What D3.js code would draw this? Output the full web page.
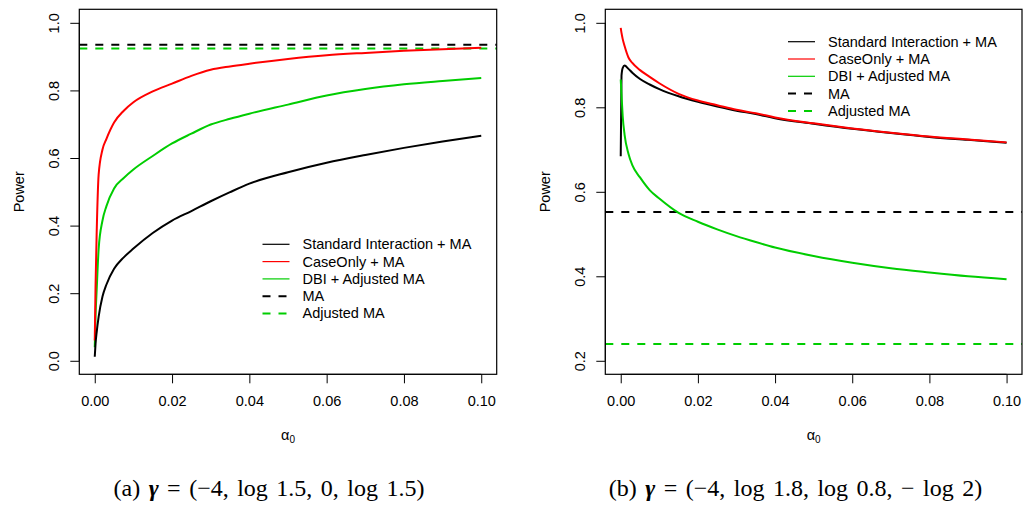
<!DOCTYPE html>
<html>
<head>
<meta charset="utf-8">
<script src="https://cdn.jsdelivr.net/npm/d3@7"></script>
<style>
  body { margin: 0; background: #fff; }
  svg text { font-family: "Liberation Sans", Arial, Helvetica, sans-serif; }
  .cap { font-family: "Liberation Serif", "DejaVu Serif", serif; }
</style>
</head>
<body>
<svg id="chart" width="1025" height="506"></svg>
<script>
// alpha0 の値（両パネル共通）
const alpha = [0, 0.0002, 0.0005, 0.001, 0.002, 0.003, 0.005, 0.0075, 0.01, 0.015, 0.02,
               0.025, 0.03, 0.035, 0.04, 0.05, 0.06, 0.07, 0.08, 0.09, 0.1];

// (a) gamma = (-4, log1.5, 0, log1.5)
const aStandard = [0.012, 0.05, 0.085, 0.13, 0.19, 0.225, 0.272, 0.306, 0.332, 0.378, 0.415,
                   0.443, 0.472, 0.499, 0.524, 0.558, 0.586, 0.609, 0.63, 0.649, 0.666];
const aCaseOnly = [0.06, 0.22, 0.38, 0.55, 0.625, 0.656, 0.705, 0.74, 0.765, 0.797, 0.82,
                   0.843, 0.861, 0.871, 0.879, 0.893, 0.904, 0.911, 0.917, 0.922, 0.926];
const aDBI = [0.04, 0.13, 0.21, 0.33, 0.415, 0.457, 0.51, 0.541, 0.566, 0.606, 0.643,
              0.672, 0.699, 0.716, 0.731, 0.758, 0.785, 0.804, 0.818, 0.828, 0.837];
const aMA = 0.935;
const aAdjMA = 0.924;

// (b) gamma = (-4, log1.8, log0.8, -log2)
const bStandard = [0.684, 0.875, 0.893, 0.899, 0.891, 0.882, 0.867, 0.854, 0.843, 0.826, 0.813,
                   0.802, 0.792, 0.784, 0.774, 0.761, 0.749, 0.739, 0.73, 0.723, 0.716];
const bCaseOnly = [0.988, 0.976, 0.962, 0.945, 0.918, 0.905, 0.888, 0.872, 0.857, 0.832, 0.816,
                   0.805, 0.794, 0.786, 0.776, 0.762, 0.75, 0.74, 0.731, 0.724, 0.717];
const bDBI = [0.866, 0.83, 0.78, 0.735, 0.69, 0.663, 0.634, 0.604, 0.584, 0.55, 0.529,
              0.511, 0.495, 0.481, 0.468, 0.448, 0.432, 0.419, 0.409, 0.4, 0.393];
const bMA = 0.552;
const bAdjMA = 0.240;

const xTicks = [0, 0.02, 0.04, 0.06, 0.08, 0.1];
const legendNames = ["Standard Interaction + MA", "CaseOnly + MA", "DBI + Adjusted MA", "MA", "Adjusted MA"];

const RED = "#ff0000";
const GREEN = "#00cd00";

const svg = d3.select("#chart");

/** パネルを一つ描く
 *
 * @param {*} p 位置と系列
 */
function drawPanel(p) {
    // R の xaxs="r" と同じく 4% 広げる
    const xr = 0.1 * 0.04;
    const yr = (p.ylim[1] - p.ylim[0]) * 0.04;
    const x = d3.scaleLinear().domain([-xr, 0.1 + xr]).range([p.left, p.right]);
    const y = d3.scaleLinear().domain([p.ylim[0] - yr, p.ylim[1] + yr]).range([p.bottom, p.top]);

    const g = svg.append("g");

    // 水平の参照線（破線）
    const hl = [[p.ma, "#000"], [p.adj, GREEN]];
    for (let h of hl) {
        g.append("line")
            .attr("x1", p.left).attr("x2", p.right)
            .attr("y1", y(h[0])).attr("y2", y(h[0]))
            .attr("stroke", h[1]).attr("stroke-width", 2)
            .attr("stroke-dasharray", "8,8");
    }

    const line = d3.line().x((d, i) => x(alpha[i])).y(d => y(d)).curve(d3.curveMonotoneX);
    const series = [[p.dbi, GREEN], [p.caseOnly, RED], [p.standard, "#000"]];
    if (p.redOnTop) series.reverse();
    for (let s of series) {
        g.append("path")
            .attr("d", line(s[0]))
            .attr("fill", "none")
            .attr("stroke", s[1])
            .attr("stroke-width", 2)
            .attr("stroke-linejoin", "round");
    }

    // 枠
    g.append("rect")
        .attr("x", p.left).attr("y", p.top)
        .attr("width", p.right - p.left).attr("height", p.bottom - p.top)
        .attr("fill", "none").attr("stroke", "#000").attr("stroke-width", 1.2);

    // x 軸
    const xAxis = g.append("g")
        .attr("transform", `translate(0,${p.bottom})`)
        .call(d3.axisBottom(x).tickValues(xTicks).tickSize(9).tickSizeOuter(0)
            .tickFormat(d3.format(".2f")));
    xAxis.select(".domain").attr("d", `M${x(0)},0H${x(0.1)}`);
    xAxis.selectAll("text").attr("font-size", 14.5).attr("fill", "#000")
        .attr("font-family", "Liberation Sans, Arial, sans-serif")
        .attr("dy", null).attr("y", 32);

    // y 軸
    const yAxis = g.append("g")
        .attr("transform", `translate(${p.left},0)`)
        .call(d3.axisLeft(y).tickValues(p.yTicks).tickSize(9).tickSizeOuter(0)
            .tickFormat(d3.format(".1f")));
    yAxis.select(".domain").attr("d", `M0,${y(p.yTicks[0])}V${y(p.yTicks[p.yTicks.length - 1])}`);
    yAxis.selectAll(".tick text")
        .attr("font-size", 14.5).attr("fill", "#000")
        .attr("font-family", "Liberation Sans, Arial, sans-serif")
        .attr("x", null).attr("dy", null)
        .attr("text-anchor", "middle")
        .attr("transform", "translate(-20,0) rotate(-90)");

    // 軸ラベル
    g.append("text")
        .attr("transform", `translate(${p.left - 55},${(p.top + p.bottom) / 2}) rotate(-90)`)
        .attr("text-anchor", "middle")
        .attr("font-size", 14.5)
        .text("Power");

    const xl = g.append("text")
        .attr("x", (p.left + p.right) / 2)
        .attr("y", p.bottom + 66)
        .attr("text-anchor", "middle")
        .attr("font-size", 14.5);
    xl.append("tspan").text("α");
    xl.append("tspan").attr("font-size", 10).attr("dy", 3).text("0");

    // 凡例
    const lg = g.append("g").attr("transform", `translate(${p.legX},${p.legY})`);
    const legStyle = [
        ["#000", null, 1.2], [RED, null, 1.2], [GREEN, null, 1.2],
        ["#000", "8,8", 2], [GREEN, "8,8", 2]
    ];
    legendNames.forEach((name, i) => {
        const yy = i * 17.3;
        lg.append("line")
            .attr("x1", 0).attr("x2", 27)
            .attr("y1", yy).attr("y2", yy)
            .attr("stroke", legStyle[i][0])
            .attr("stroke-width", legStyle[i][2])
            .attr("stroke-dasharray", legStyle[i][1]);
        lg.append("text")
            .attr("x", 40).attr("y", yy + 5)
            .attr("font-size", 14.5)
            .text(name);
    });

    // キャプション
    const cap = svg.append("text")
        .attr("class", "cap")
        .attr("x", p.capX).attr("y", 496)
        .attr("text-anchor", "middle")
        .attr("font-size", 24)
        .attr("word-spacing", 2.5);
    cap.append("tspan").text(p.capA + " ");
    cap.append("tspan").attr("font-weight", "bold").attr("font-style", "italic").text("γ");
    cap.append("tspan").text(" = " + p.capB);
}

drawPanel({
    left: 79.3, right: 496.7, top: 9.3, bottom: 374.3,
    ylim: [0, 1], yTicks: [0, 0.2, 0.4, 0.6, 0.8, 1.0],
    standard: aStandard, caseOnly: aCaseOnly, dbi: aDBI, ma: aMA, adj: aAdjMA,
    legX: 262.5, legY: 244.3,
    capX: 269, capA: "(a)", capB: "(−4, log 1.5, 0, log 1.5)",
    redOnTop: false
});

drawPanel({
    left: 605.3, right: 1022, top: 9.3, bottom: 374.3,
    ylim: [0.2, 1], yTicks: [0.2, 0.4, 0.6, 0.8, 1.0],
    standard: bStandard, caseOnly: bCaseOnly, dbi: bDBI, ma: bMA, adj: bAdjMA,
    legX: 788, legY: 41.7,
    capX: 795.5, capA: "(b)", capB: "(−4, log 1.8, log 0.8, − log 2)",
    redOnTop: true
});
</script>
</body>
</html>
